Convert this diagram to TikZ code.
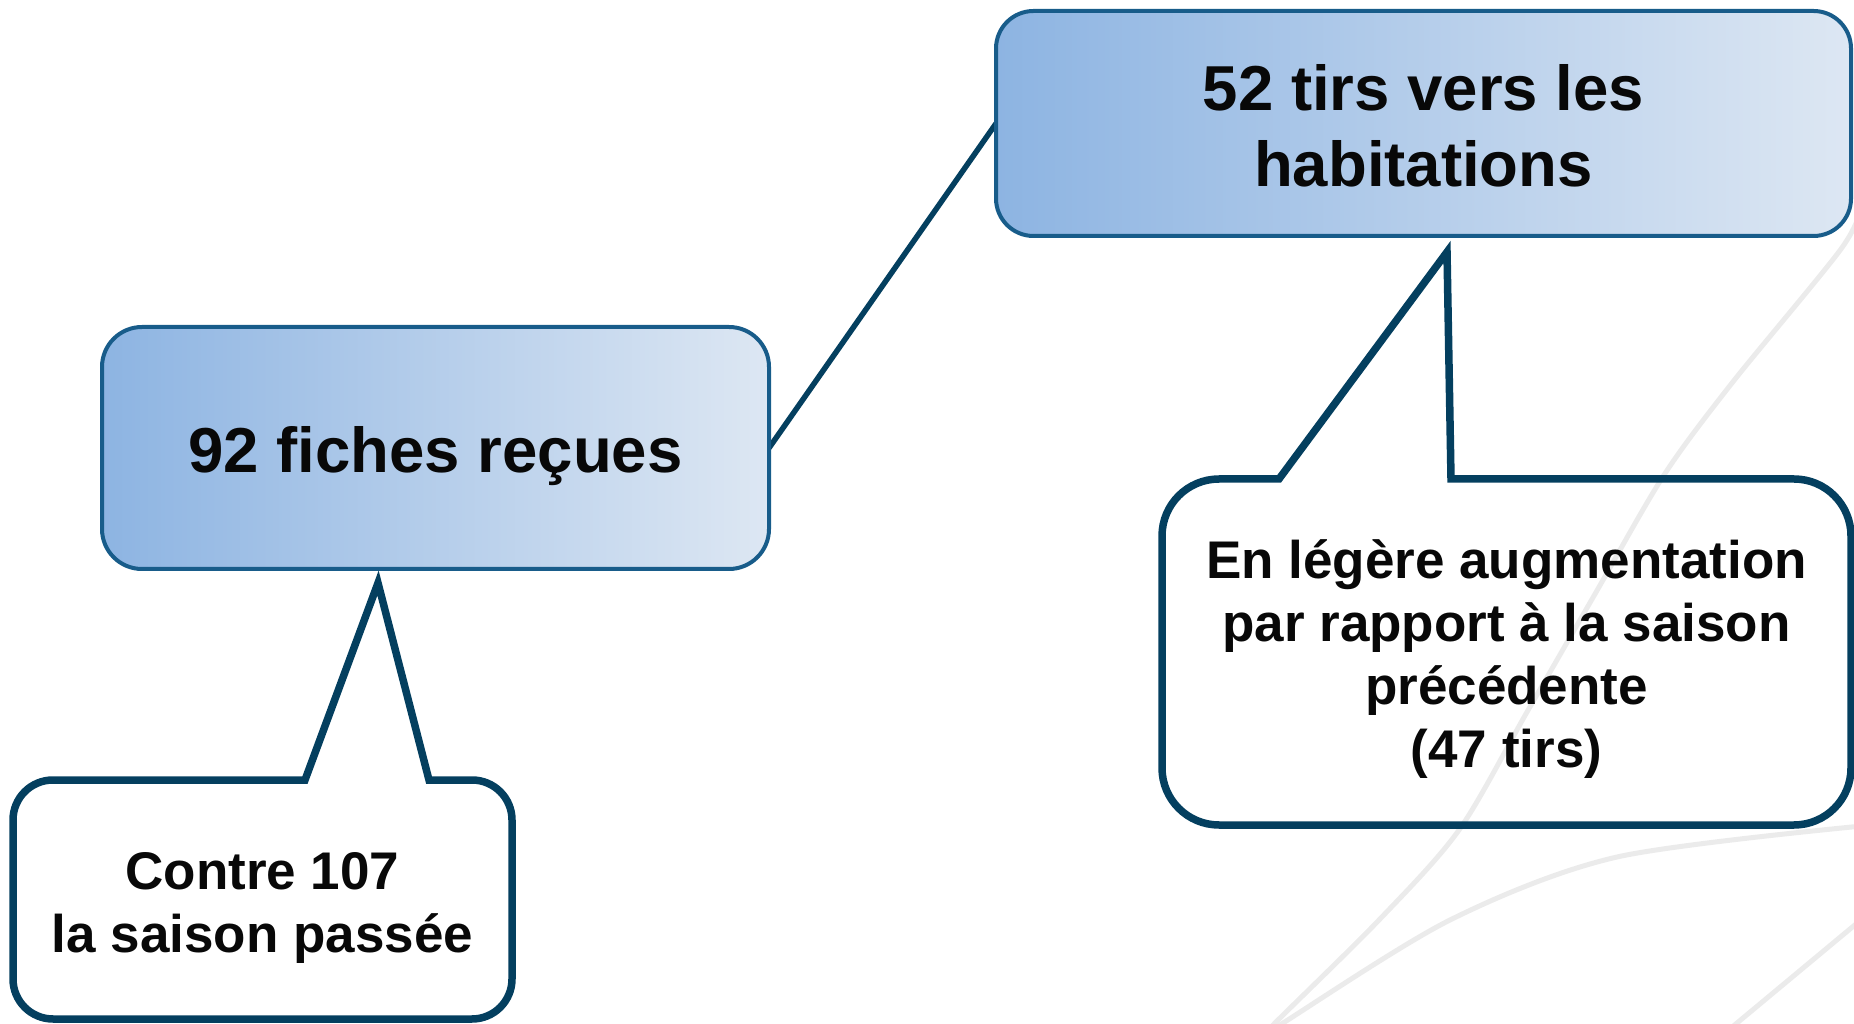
\documentclass[tikz,border=0pt]{standalone}
\usepackage{fontspec}
\setmainfont{Liberation Sans}
\usetikzlibrary{calc}
\pgfdeclarelayer{background}
\pgfsetlayers{background,main}
\definecolor{boxbd}{RGB}{24,92,138}
\definecolor{navy}{RGB}{4,63,95}
\definecolor{gradL}{RGB}{141,180,226}
\definecolor{gradR}{RGB}{221,231,243}
\definecolor{bgline}{RGB}{235,235,235}
\definecolor{txt}{RGB}{8,8,8}
\begin{document}
\begin{tikzpicture}[x=1pt,y=1pt,
  bluebox/.style={draw=boxbd, line width=4pt, left color=gradL, right color=gradR,
    inner sep=0pt, outer sep=0pt},
  bigtext/.style={align=center, text=txt, inner sep=0pt,
    font=\bfseries\fontsize{63.5}{76}\selectfont},
  calloutbox/.style={inner sep=0pt, outer sep=0pt},
  callouttext/.style={align=center, text=txt, inner sep=0pt,
    font=\bfseries\fontsize{53}{63}\selectfont},
  calloutline/.style={draw=navy, line width=7.5pt, line join=miter},
  link/.style={draw=navy, line width=5.5pt},
  bg/.style={draw=bgline, line width=5pt}]
\useasboundingbox (0,0) rectangle (1854,1023);
\clip (0,0) rectangle (1854,1023);
% blue boxes
\node[bluebox, minimum width=855pt, minimum height=225pt, rounded corners=37.5pt] (top) at (1423.5,899.5) {};
\node[bigtext] (toptext) at ($(top.center)+(0,-2)$) {52 tirs vers les\\habitations};
\node[bluebox, minimum width=667pt, minimum height=242pt, rounded corners=40pt] (left) at (435.5,575) {};
\node[bigtext] (lefttext) at ($(left.center)+(0,-8)$) {92 fiches reçues};
\begin{pgfonlayer}{background}
% background decoration
\draw[bg] plot[smooth] coordinates {(1862,818) (1841,774) (1732,640) (1664,548) (1595,429) (1527,311) (1459,193) (1379,103) (1275,0) (1262,-15)};
\draw[bg] plot[smooth] coordinates {(1862,197) (1617,166) (1450,103) (1283,0) (1265,-12)};
\draw[bg] (1862,104) -- (1737,0) -- (1725,-10);
\draw[link] (left.east) -- (top.west);
\end{pgfonlayer}
% callout 1
\node[calloutbox, minimum width=499pt, minimum height=239pt] (c1) at (262.5,123.5) {};
\node[callouttext] (c1text) at ($(c1.center)+(0,-8)$) {Contre 107\\la saison passée};
\coordinate (t1) at (378,440);
\draw[calloutline] ($(c1.north west)+(292,0)$) -- (t1) -- ($(c1.north west)+(416,0)$)
  -- ($(c1.north east)+(-40,0)$) arc[start angle=90,end angle=0,radius=40pt]
  -- ($(c1.south east)+(0,40)$) arc[start angle=0,end angle=-90,radius=40pt]
  -- ($(c1.south west)+(40,0)$) arc[start angle=270,end angle=180,radius=40pt]
  -- ($(c1.north west)+(0,-40)$) arc[start angle=180,end angle=90,radius=40pt] -- cycle;
% callout 2
\node[calloutbox, minimum width=689pt, minimum height=346pt] (c2) at (1506.5,371) {};
\node[callouttext] (c2text) at ($(c2.center)+(0,-7)$) {En légère augmentation\\par rapport à la saison\\précédente\\(47 tirs)};
\coordinate (t2) at (1447,771);
\draw[calloutline] ($(c2.north west)+(117,0)$) -- (t2) -- ($(c2.north west)+(289,0)$)
  -- ($(c2.north east)+(-57,0)$) arc[start angle=90,end angle=0,radius=57pt]
  -- ($(c2.south east)+(0,57)$) arc[start angle=0,end angle=-90,radius=57pt]
  -- ($(c2.south west)+(57,0)$) arc[start angle=270,end angle=180,radius=57pt]
  -- ($(c2.north west)+(0,-57)$) arc[start angle=180,end angle=90,radius=57pt] -- cycle;
\end{tikzpicture}
\end{document}
